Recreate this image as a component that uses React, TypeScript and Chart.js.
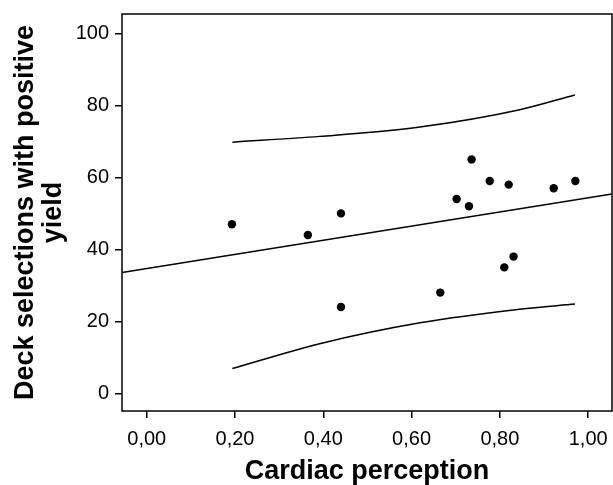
import React, { useEffect, useRef } from "react";
import { Chart, registerables } from "chart.js";

Chart.register(...registerables);

// Observed data: cardiac perception vs deck selections with positive yield
const cardiacPerception = [0.193, 0.365, 0.44, 0.44, 0.665, 0.702, 0.73, 0.736, 0.777, 0.82, 0.81, 0.831, 0.922, 0.971];
const deckSelections = [47, 44, 50, 24, 28, 54, 52, 65, 59, 58, 35, 38, 57, 59];

// Regression line (drawn across the whole plot, clipped)
const fitX = [-0.056, 1.054];
const fitY = [33.6, 55.4];

// Prediction interval curves
const bandX = [0.194, 0.392, 0.619, 0.845, 0.97];
const upperY = [69.8, 71.4, 74.0, 78.8, 82.9];
const lowerY = [6.9, 13.8, 19.6, 23.4, 24.8];

// Axis ticks
const xTicks = [0, 0.2, 0.4, 0.6, 0.8, 1.0];
const yTicks = [0, 20, 40, 60, 80, 100];

const FONT = "'Liberation Sans', Arial, Helvetica, sans-serif";

const boxPlugin = {
  id: "boxPlugin",
  afterDraw(chart: any) {
    const { ctx, chartArea } = chart;
    ctx.save();
    ctx.strokeStyle = "#000";
    ctx.lineWidth = 1.5;
    ctx.strokeRect(chartArea.left, chartArea.top, chartArea.right - chartArea.left, chartArea.bottom - chartArea.top);
    ctx.restore();
  },
};

export default function App() {
  const ref = useRef<HTMLCanvasElement | null>(null);

  useEffect(() => {
    document.body.style.margin = "0";
    if (!ref.current) return;
    const zip = (xs: number[], ys: number[]) => xs.map((x, i) => ({ x, y: ys[i] }));
    const lineStyle = {
      showLine: true,
      pointRadius: 0,
      borderColor: "#000",
      borderWidth: 1.5,
      backgroundColor: "#000",
      fill: false,
    };
    const chart = new Chart(ref.current, {
      type: "scatter",
      data: {
        datasets: [
          {
            label: "Observed",
            data: zip(cardiacPerception, deckSelections),
            pointRadius: 4.2,
            pointBackgroundColor: "#000",
            pointBorderColor: "#000",
            pointBorderWidth: 0,
          },
          { label: "Fit", data: zip(fitX, fitY), ...lineStyle },
          { label: "Upper", data: zip(bandX, upperY), ...lineStyle, cubicInterpolationMode: "monotone" },
          { label: "Lower", data: zip(bandX, lowerY), ...lineStyle, cubicInterpolationMode: "monotone" },
        ] as any,
      },
      options: {
        animation: false,
        responsive: false,
        layout: { autoPadding: false, padding: { left: 0, top: 14, right: 1, bottom: 0 } },
        plugins: { legend: { display: false }, tooltip: { enabled: false } },
        scales: {
          x: {
            type: "linear",
            min: -0.056,
            max: 1.054,
            afterBuildTicks: (scale: any) => {
              scale.ticks = xTicks.map((v) => ({ value: v }));
            },
            afterFit: (scale: any) => {
              scale.height = 74;
              scale.paddingLeft = 0;
              scale.paddingRight = 0;
            },
            border: { display: false },
            grid: { drawOnChartArea: false, drawTicks: true, tickLength: 7, color: "#000", lineWidth: 1.5 },
            ticks: {
              color: "#000",
              padding: 9,
              font: { family: FONT, size: 20 },
              callback: (v: any) => Number(v).toFixed(2).replace(".", ","),
            },
            title: {
              display: true,
              text: "Cardiac perception",
              color: "#000",
              font: { family: FONT, size: 27, weight: "bold", lineHeight: 1.0 },
              padding: { top: 0, bottom: 0 },
            },
          },
          y: {
            type: "linear",
            min: -4.9,
            max: 105.4,
            afterBuildTicks: (scale: any) => {
              scale.ticks = yTicks.map((v) => ({ value: v }));
            },
            afterFit: (scale: any) => {
              scale.width = 122;
              scale.paddingTop = 0;
              scale.paddingBottom = 0;
            },
            border: { display: false },
            grid: { drawOnChartArea: false, drawTicks: true, tickLength: 7, color: "#000", lineWidth: 1.5 },
            ticks: {
              color: "#000",
              padding: 6,
              font: { family: FONT, size: 20 },
              callback: (v: any) => String(v),
            },
            title: {
              display: true,
              text: ["Deck selections with positive", "yield"],
              color: "#000",
              font: { family: FONT, size: 27, weight: "bold", lineHeight: 1.05 },
              padding: { top: 11, bottom: 0 },
            },
          },
        },
      } as any,
      plugins: [boxPlugin],
    });
    return () => chart.destroy();
  }, []);

  return (
    <div style={{ position: "absolute", left: 0, top: 0, width: 613, height: 485 }}>
      <canvas ref={ref} width={613} height={485} style={{ width: 613, height: 485 }} />
    </div>
  );
}
